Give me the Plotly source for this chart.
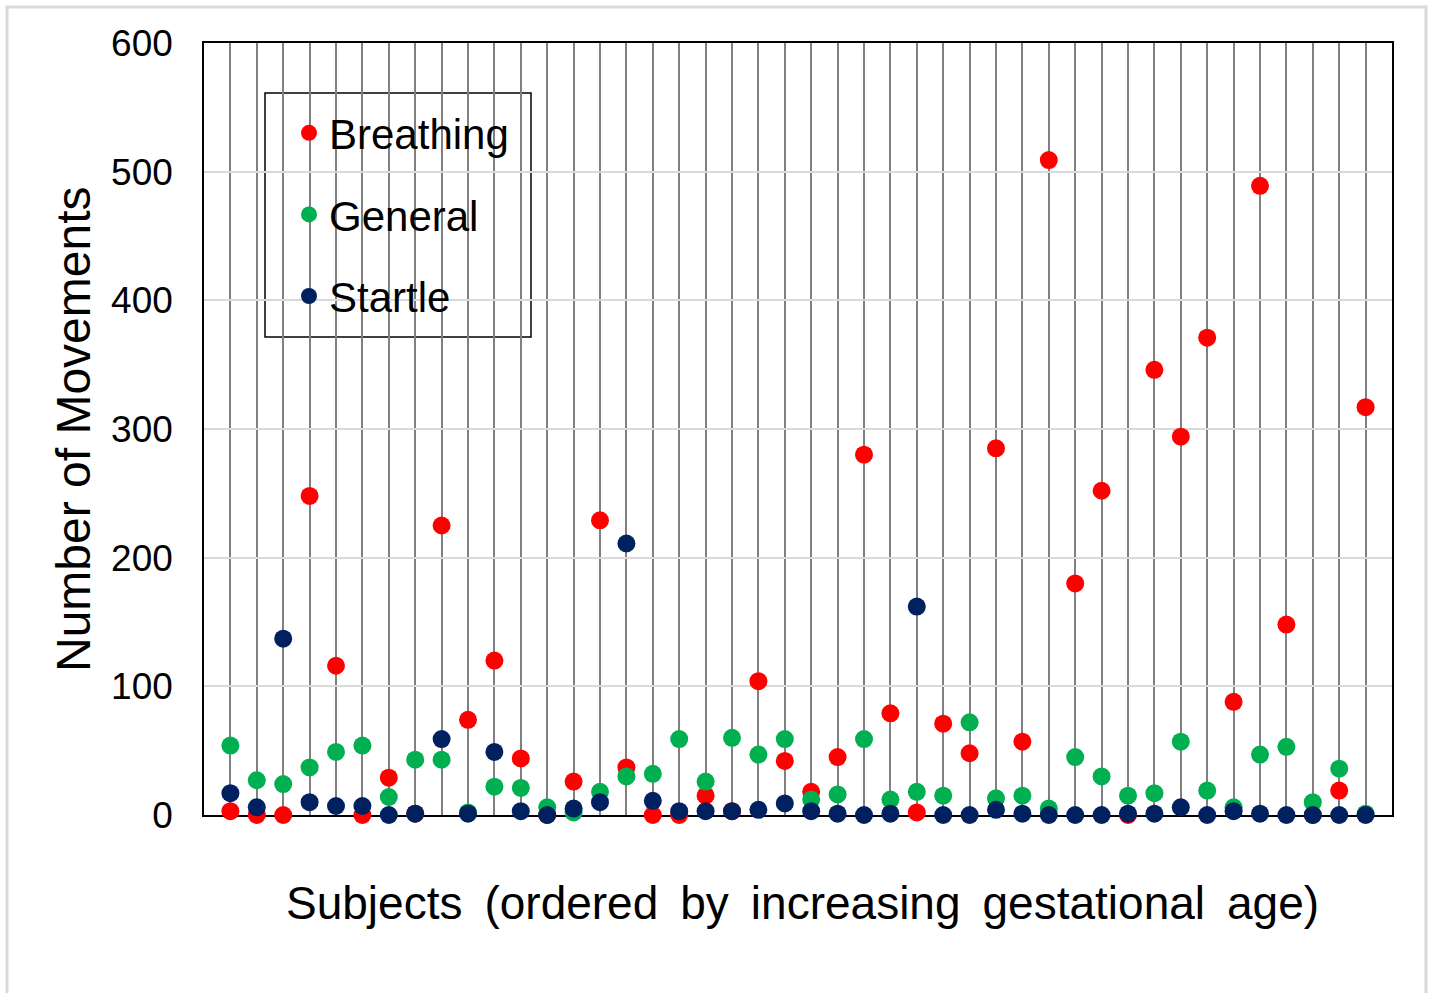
import plotly.graph_objects as go

subjects = list(range(1, 45))

breathing = [3, 0, 0, 248, 116, 0, 29, 1, 225, 74, 120, 44, 0, 26, 229, 37, 0, 0, 15, 3, 104, 42,
             18, 45, 280, 79, 2, 71, 48, 285, 57, 509, 180, 252, 0, 346, 294, 371, 88, 489, 148, 0, 19, 317]
general = [54, 27, 24, 37, 49, 54, 14, 43, 43, 2, 22, 21, 6, 2, 18, 30, 32, 59, 26, 60, 47, 59,
           12, 16, 59, 12, 18, 15, 72, 13, 15, 5, 45, 30, 15, 17, 57, 19, 6, 47, 53, 10, 36, 1]
startle = [17, 6, 137, 10, 7, 7, 0, 1, 59, 1, 49, 3, 0, 5, 10, 211, 11, 3, 3, 3, 4, 9,
           3, 1, 0, 1, 162, 0, 0, 4, 1, 0, 0, 0, 1, 1, 6, 0, 3, 1, 0, 0, 0, 0]

series_names = ["Breathing", "General", "Startle"]
series_colors = ["#ff0000", "#00b050", "#002060"]
y_ticks = [0, 100, 200, 300, 400, 500, 600]

FONT = "Liberation Sans, Arial, sans-serif"

fig = go.Figure()
for name, vals, col in zip(series_names, [breathing, general, startle], series_colors):
    fig.add_trace(go.Scatter(
        x=subjects, y=vals, mode="markers", name=name, legendgroup=name,
        marker=dict(color=col, size=18, line=dict(width=0)),
        cliponaxis=False,
    ))

# plot area in pixels
L, R, T, B = 204, 1392, 43, 815
W, H = R - L, B - T


def px(x):
    return (x - L) / W


def py(y):
    return (B - y) / H


sp = "\u2009 "
fig.update_layout(
    width=1429, height=993,
    margin=dict(l=L, r=1429 - R, t=T, b=993 - B),
    paper_bgcolor="white", plot_bgcolor="white",
    font=dict(family=FONT, color="black"),
    showlegend=True,
    legend=dict(
        x=px(289), y=py(99), xanchor="left", yanchor="top",
        bgcolor="rgba(0,0,0,0)", borderwidth=0,
        font=dict(size=42, family=FONT, color="black"),
        tracegroupgap=24, traceorder="grouped", itemsizing="trace",
    ),
    xaxis=dict(
        range=[0, 45], tickmode="array", tickvals=subjects, showticklabels=False,
        ticks="", showgrid=True, gridcolor="#808080", gridwidth=1.5,
        zeroline=False, showline=True, linecolor="black", linewidth=1.5, mirror=True,
        layer="below traces",
    ),
    yaxis=dict(
        range=[0, 600], tickmode="array", tickvals=y_ticks,
        ticktext=[str(v) for v in y_ticks],
        tickfont=dict(size=37, family=FONT, color="black"),
        ticks="", ticklabelstandoff=22,
        showgrid=True, gridcolor="#d9d9d9", gridwidth=1.5,
        zeroline=False, showline=True, linecolor="black", linewidth=1.5, mirror=True,
        layer="below traces",
    ),
    shapes=[
        dict(type="rect", xref="paper", yref="paper",
             x0=px(265), x1=px(531), y0=py(337), y1=py(93),
             fillcolor="white", line=dict(color="black", width=1.5), layer="between"),
        dict(type="rect", xref="paper", yref="paper",
             x0=px(7), x1=px(1426), y0=py(1005), y1=py(7),
             fillcolor="rgba(0,0,0,0)", line=dict(color="#d9d9d9", width=3), layer="above"),
    ],
    annotations=[
        dict(text="Number of Movements", xref="paper", yref="paper",
             x=px(73), y=py(429), xanchor="center", yanchor="middle",
             textangle=-90, showarrow=False,
             font=dict(size=48, family=FONT, color="black")),
        dict(text=sp.join(["Subjects", "(ordered", "by", "increasing", "gestational", "age)"]),
             xref="paper", yref="paper",
             x=px(802), y=py(903), xanchor="center", yanchor="middle",
             showarrow=False,
             font=dict(size=46, family=FONT, color="black")),
    ],
)

fig.write_html("out.html")
